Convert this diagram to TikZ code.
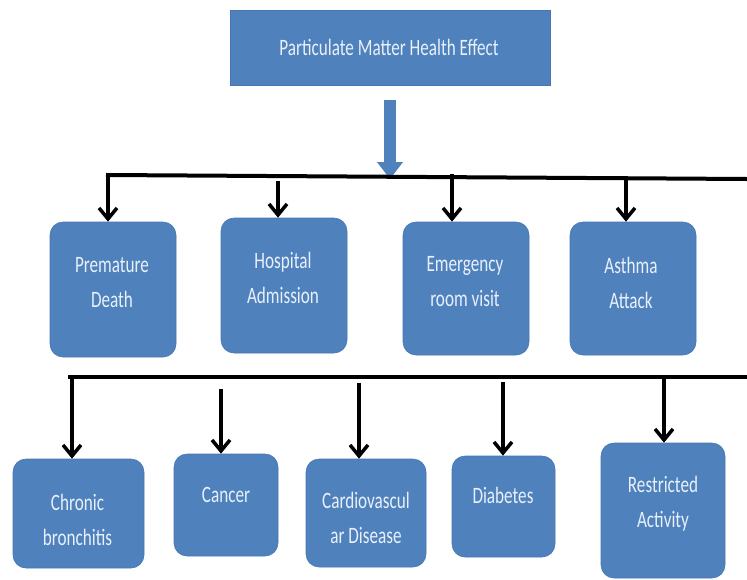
\documentclass[tikz,border=0pt]{standalone}
\usepackage{fontspec}
\setmainfont{Carlito}[FakeStretch=0.73]
\usetikzlibrary{arrows.meta}
\definecolor{boxblue}{HTML}{4F81BD}
\definecolor{boxedge}{HTML}{4677B2}
\definecolor{txt}{RGB}{232,240,250}
\begin{document}
\begin{tikzpicture}[x=1pt,y=-1pt,
  box/.style={fill=boxblue, draw=boxedge, line width=0.6pt, rounded corners=13pt, inner sep=0pt},
  titlebox/.style={fill=boxblue, draw=boxedge, line width=0.6pt, inner sep=0pt},
  lab/.style={text=txt, font=\fontsize{23.5}{35}\selectfont, align=center, inner sep=0pt},
  bus/.style={line width=4pt, line cap=rect},
  arr/.style={line width=3.5pt, -{Straight Barb[length=11pt,width=18pt]}},
  bigarr/.style={line width=12pt, draw=boxblue, -{Triangle[length=17pt,width=25pt]}}]
\useasboundingbox (0,0) rectangle (747,579);

% title
\node[titlebox, minimum width=320pt, minimum height=75pt] (title) at (390,47.5) {};
\node[lab] (ttitle) at (389,47) {Particulate Matter Health Effect};

% blue arrow
\coordinate (bt) at (390,100);
\coordinate (bb) at (390,179);
\draw[bigarr] (bt) -- (bb);

% row 1 boxes
\node[box, minimum width=126pt, minimum height=135pt] (pd) at (113,289.5) {};
\node[box, minimum width=126pt, minimum height=135pt] (ha) at (284,285.5) {};
\node[box, minimum width=126pt, minimum height=133pt] (er) at (466,288.5) {};
\node[box, minimum width=126pt, minimum height=133pt] (aa) at (633,288.5) {};
\node[lab] (tpd) at (112,282.5) {Premature\\Death};
\node[lab] (tha) at (283,277.5) {Hospital\\Admission};
\node[lab] (ter) at (465,281.5) {Emergency\\room visit};
\node[lab] (taa) at (631,283) {Asthma\\Attack};

% row 2 boxes
\node[box, minimum width=131pt, minimum height=109pt] (cb) at (78.5,513.5) {};
\node[box, minimum width=104pt, minimum height=102pt] (ca) at (226,505) {};
\node[box, minimum width=120pt, minimum height=108pt] (cd) at (366,513) {};
\node[box, minimum width=103pt, minimum height=101pt] (di) at (503.5,506.5) {};
\node[box, minimum width=124pt, minimum height=135pt] (ra) at (663,510.5) {};
\node[lab] (tcb) at (77.5,519.5) {Chronic\\bronchitis};
\node[lab] (tca) at (226,495) {Cancer};
\node[lab] (tcd) at (366,518) {Cardiovascul\\ar Disease};
\node[lab] (tdi) at (503,495) {Diabetes};
\node[lab] (tra) at (663,503.5) {Restricted\\Activity};

% bus lines
\coordinate (l1a) at (108,175);
\coordinate (l1b) at (747,179);
\coordinate (l2a) at (70,377);
\coordinate (l2b) at (747,377);
\draw[bus] (l1a) -- (l1b);
\draw[bus] (l2a) -- (l2b);

% row 1 arrows
\coordinate (a1) at (108,175);
\coordinate (a2) at (278,181);
\coordinate (a3) at (452,174);
\coordinate (a4) at (626,176);
\draw[arr] (a1) -- (a1 |- pd.north);
\draw[arr] (a2) -- (a2 |- ha.north);
\draw[arr] (a3) -- (a3 |- er.north);
\draw[arr] (a4) -- (a4 |- aa.north);

% row 2 arrows
\coordinate (b1) at (72,377);
\coordinate (b2) at (221,389);
\coordinate (b3) at (359,383);
\coordinate (b4) at (503,382);
\coordinate (b5) at (664,377);
\draw[arr] (b1) -- (b1 |- cb.north);
\draw[arr] (b2) -- (b2 |- ca.north);
\draw[arr] (b3) -- (b3 |- cd.north);
\draw[arr] (b4) -- (b4 |- di.north);
\draw[arr] (b5) -- (b5 |- ra.north);
\end{tikzpicture}
\end{document}
